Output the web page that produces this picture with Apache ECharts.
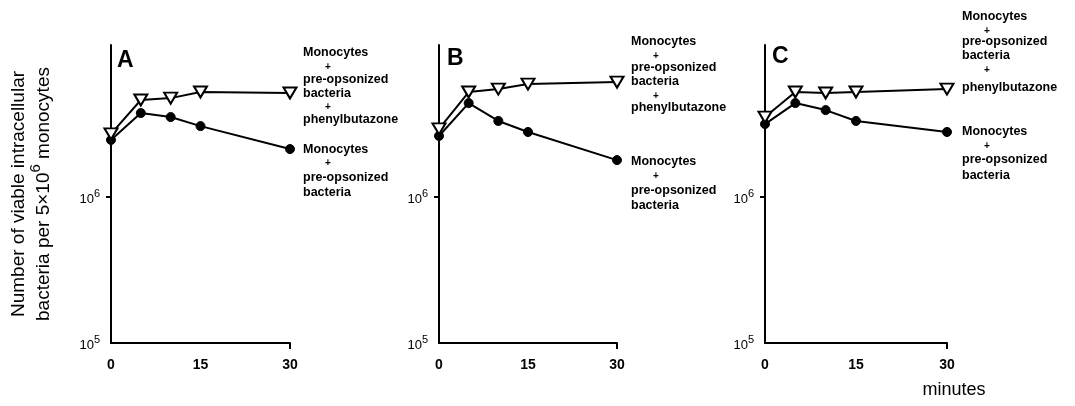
<!DOCTYPE html>
<html>
<head>
<meta charset="utf-8">
<script src="https://cdn.jsdelivr.net/npm/echarts@6/dist/echarts.min.js"></script>
<style>html,body{margin:0;padding:0;background:#fff}#c{width:1075px;height:406px}</style>
</head>
<body>
<div id="c"></div>
<script>
// ---- data ----
const minutes = [0, 5, 10, 15, 30];
const xTicks = [0, 15, 30];
const yTicks = [1e5, 1e6];
const panelLetters = ['A', 'B', 'C'];
const aPhenyl  = [2.71e6, 4.62e6, 4.76e6, 5.24e6, 5.16e6];
const aControl = [2.46e6, 3.76e6, 3.53e6, 3.06e6, 2.13e6];
const bPhenyl  = [2.93e6, 5.24e6, 5.49e6, 5.94e6, 6.13e6];
const bControl = [2.62e6, 4.40e6, 3.32e6, 2.79e6, 1.79e6];
const cPhenyl  = [3.53e6, 5.24e6, 5.16e6, 5.24e6, 5.49e6];
const cControl = [3.16e6, 4.40e6, 3.94e6, 3.32e6, 2.79e6];
const phenylLabel = ['Monocytes', '+', 'pre-opsonized', 'bacteria', '+', 'phenylbutazone'];
const controlLabel = ['Monocytes', '+', 'pre-opsonized', 'bacteria'];
const xAxisTitle = 'minutes';
const yTitle1 = 'Number of viable intracellular';
const yTitle2a = 'bacteria per 5\u00d710';
const yTitle2b = '6';
const yTitle2c = ' monocytes';

// ---- layout ----
const grids = [
  {left: 111, width: 179, top: 45, height: 298},
  {left: 439, width: 178, top: 45, height: 298},
  {left: 765, width: 182, top: 45, height: 298}
];
const letterPos = [[117, 61], [447, 59], [772, 57]];
const labelLayout = [
  {x: 303, phenylY: [53, 67, 80, 94, 107, 120], controlY: [150, 163, 178, 193]},
  {x: 631, phenylY: [42, 56, 68, 82, 96, 108], controlY: [162, 176, 191, 206]},
  {x: 962, phenylY: [17, 31, 42, 56, 70, 88], controlY: [132, 146, 160, 176]}
];
const phenylSets = [aPhenyl, bPhenyl, cPhenyl];
const controlSets = [aControl, bControl, cControl];
const FONT = '"Liberation Sans", Arial, sans-serif';

const pairs = arr => minutes.map((m, i) => [m, arr[i]]);

const xAxes = grids.map((g, i) => ({
  type: 'value', gridIndex: i, min: 0, max: 30, interval: 15,
  axisLine: {lineStyle: {color: '#000', width: 2}},
  axisTick: {show: true, length: 6, lineStyle: {color: '#000', width: 2}, customValues: [30]},
  axisLabel: {color: '#000', fontSize: 14, fontWeight: 'bold', fontFamily: FONT, margin: 15, customValues: xTicks},
  splitLine: {show: false}
}));

const yAxes = grids.map((g, i) => {
  const ax = {
    type: 'log', gridIndex: i, min: 1e5, max: 1.1e7, logBase: 10,
    axisLine: {show: true, lineStyle: {color: '#000', width: 2}},
    axisTick: {show: true, length: 5, lineStyle: {color: '#000', width: 2}, customValues: [1e6]},
    axisLabel: {
      customValues: yTicks, margin: 11,
      formatter: v => '{b|10}{s|' + Math.round(Math.log10(v)) + '}',
      rich: {
        b: {fontSize: 13, fontFamily: FONT, color: '#000', lineHeight: 17, verticalAlign: 'bottom'},
        s: {fontSize: 11, fontFamily: FONT, color: '#000', lineHeight: 12, verticalAlign: 'top'}
      }
    },
    splitLine: {show: false}
  };
  if (i === 0) {
    ax.name = '{t|' + yTitle1 + '}\n{t|' + yTitle2a + '}{u|' + yTitle2b + '}{t|' + yTitle2c + '}';
    ax.nameLocation = 'middle';
    ax.nameRotate = 90;
    ax.nameGap = 58;
    ax.nameTextStyle = {
      rich: {
        t: {fontSize: 19, fontFamily: FONT, color: '#000', lineHeight: 25, verticalAlign: 'bottom'},
        u: {fontSize: 15, fontFamily: FONT, color: '#000', lineHeight: 18, verticalAlign: 'top'}
      }
    };
  }
  return ax;
});

const series = [];
grids.forEach((g, i) => {
  series.push({
    type: 'line', xAxisIndex: i, yAxisIndex: i, data: pairs(controlSets[i]),
    symbol: 'circle', symbolSize: 9,
    lineStyle: {color: '#000', width: 2},
    itemStyle: {color: '#000', borderColor: '#000', borderWidth: 1},
    animation: false, z: 3
  });
  series.push({
    type: 'line', xAxisIndex: i, yAxisIndex: i, data: pairs(phenylSets[i]),
    symbol: 'triangle', symbolRotate: 180, symbolSize: [13, 11],
    lineStyle: {color: '#000', width: 2},
    itemStyle: {color: '#fff', borderColor: '#000', borderWidth: 2},
    animation: false, z: 4
  });
});

const graphic = [];
panelLetters.forEach((L, i) => {
  graphic.push({type: 'text', x: letterPos[i][0], y: letterPos[i][1],
    style: {text: L, font: '900 23px ' + FONT, fill: '#000', textVerticalAlign: 'middle'}});
  const lay = labelLayout[i];
  phenylLabel.forEach((t, k) => {
    const plus = t === '+';
    graphic.push({type: 'text', x: lay.x + (plus ? 22 : 0), y: lay.phenylY[k],
      style: {text: t, font: (plus ? 'bold 10px ' : 'bold 12.5px ') + FONT, fill: '#000', textVerticalAlign: 'middle'}});
  });
  controlLabel.forEach((t, k) => {
    const plus = t === '+';
    graphic.push({type: 'text', x: lay.x + (plus ? 22 : 0), y: lay.controlY[k],
      style: {text: t, font: (plus ? 'bold 10px ' : 'bold 12.5px ') + FONT, fill: '#000', textVerticalAlign: 'middle'}});
  });
});
graphic.push({type: 'text', x: 954, y: 390,
  style: {text: xAxisTitle, font: '18px ' + FONT, fill: '#000', textAlign: 'center', textVerticalAlign: 'middle'}});

const chart = echarts.init(document.getElementById('c'));
chart.setOption({
  backgroundColor: '#fff',
  animation: false,
  grid: grids,
  xAxis: xAxes,
  yAxis: yAxes,
  series: series,
  graphic: graphic
});
</script>
</body>
</html>
